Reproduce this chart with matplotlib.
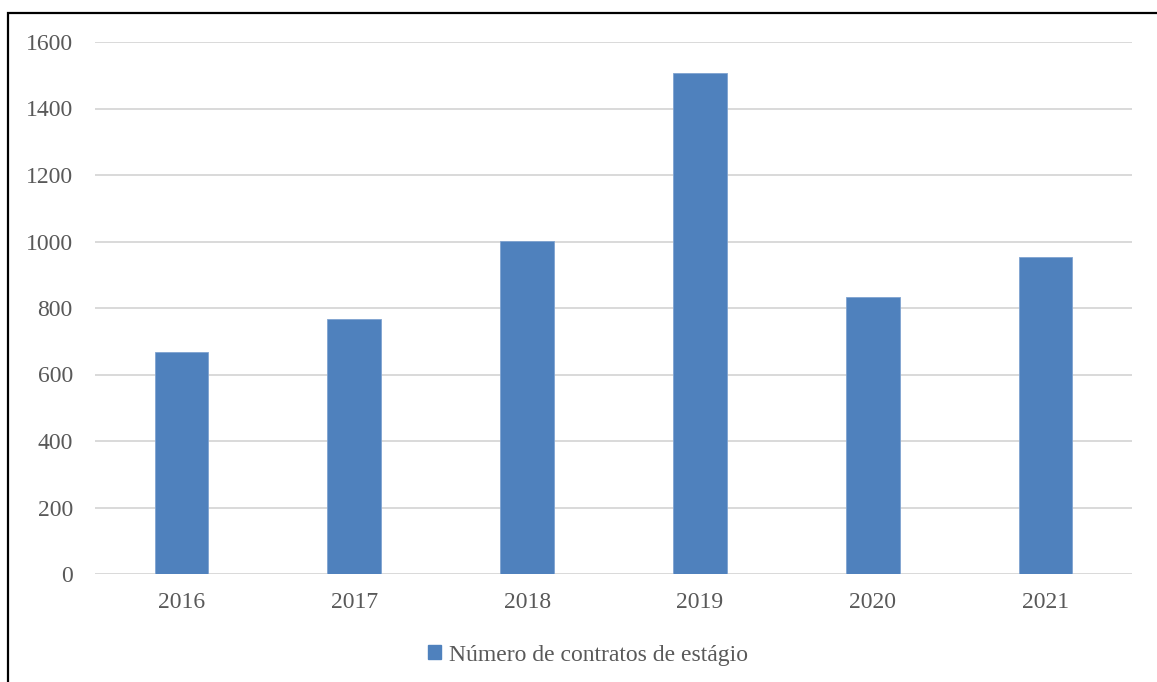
import matplotlib.pyplot as plt
from matplotlib.patches import Rectangle, Patch

# data
years = ['2016', '2017', '2018', '2019', '2020', '2021']
contratos = [667, 767, 1001, 1507, 833, 953]
y_ticks = [0, 200, 400, 600, 800, 1000, 1200, 1400, 1600]
series_label = 'Número de contratos de estágio'

W, H = 1157, 682
plt.rcParams['font.family'] = ['Liberation Serif', 'DejaVu Serif']

fig = plt.figure(figsize=(W / 100, H / 100), dpi=100)
ax = fig.add_axes([95 / W, (H - 574) / H, (1132 - 95) / W, (574 - 42) / H])

x = range(len(years))
ax.bar(x, contratos, width=0.31, color='#4f81bd', edgecolor='#7fa3d0',
       linewidth=0.6, zorder=3)

ax.set_xlim(-0.5, len(years) - 0.5)
ax.set_ylim(0, 1600)
ax.set_yticks(y_ticks)
ax.set_xticks(list(x))
ax.set_xticklabels(years)
ax.grid(axis='y', color='#d9d9d9', linewidth=1.4, zorder=0)
ax.tick_params(axis='both', length=0, labelsize=17, labelcolor='#595959')
ax.tick_params(axis='y', pad=16)
ax.tick_params(axis='x', pad=13)
for s in ax.spines.values():
    s.set_visible(False)

handle = Patch(facecolor='#4f81bd', edgecolor='#4f81bd')
leg = fig.legend([handle], [series_label], loc='center',
                 bbox_to_anchor=(588 / W, 1 - 655 / H), frameon=False,
                 fontsize=17, handlelength=0.55, handleheight=0.55,
                 handletextpad=0.3)
for t in leg.get_texts():
    t.set_color('#595959')

# outer frame (top and left edges visible)
fig.patches.append(Rectangle((7.5 / W, -0.1), 1.2, (H - 12.5) / H + 0.1,
                             transform=fig.transFigure, fill=False,
                             edgecolor='black', linewidth=1.6))

fig.savefig('out.png', dpi=100)
